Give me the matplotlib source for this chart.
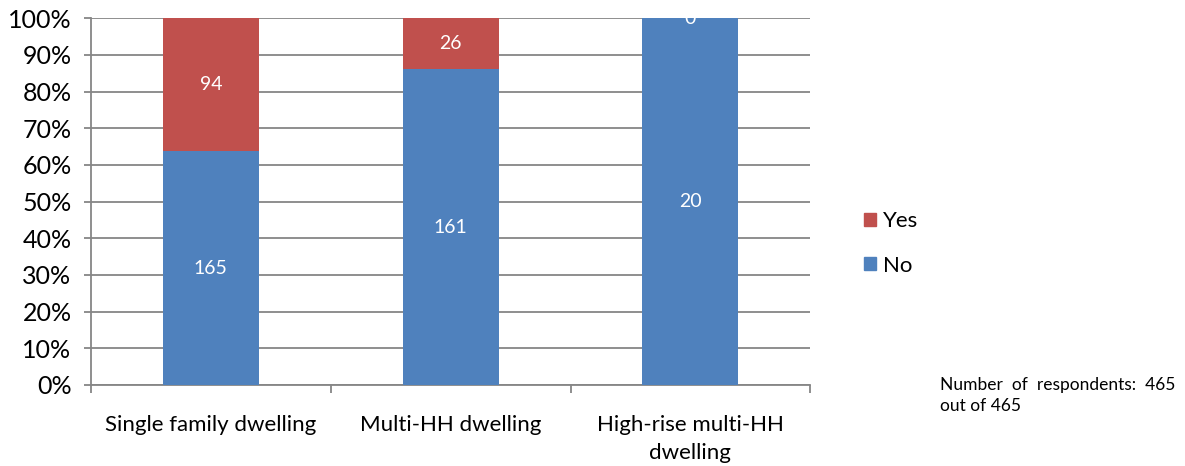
import numpy as np
import matplotlib.pyplot as plt
from matplotlib.patches import Patch
from matplotlib.ticker import PercentFormatter

plt.rcParams['font.family'] = ['Lato', 'DejaVu Sans']

# Dane
kategorie = ['Single family dwelling', 'Multi-HH dwelling', 'High-rise multi-HH\ndwelling']
nie = np.array([165, 161, 20])
tak = np.array([94, 26, 0])

suma = nie + tak
nie_pct = nie / suma * 100
tak_pct = tak / suma * 100

NIEBIESKI = '#4F81BD'
CZERWONY = '#C0504D'
SZARY = '#868686'

fig = plt.figure(figsize=(11.85, 4.66), dpi=100)
ax = fig.add_axes([0.0768, 0.174, 0.607, 0.787])

x = np.arange(len(kategorie))
s1 = ax.bar(x, nie_pct, width=0.4, color=NIEBIESKI, zorder=3)
s2 = ax.bar(x, tak_pct, width=0.4, bottom=nie_pct, color=CZERWONY, zorder=3)

# Etykiety wartości wewnątrz słupków
for i in range(len(x)):
    ax.text(x[i], nie_pct[i] / 2, str(nie[i]), ha='center', va='center',
            color='white', fontsize=14, zorder=4)
    if tak[i] > 0:
        ax.text(x[i], nie_pct[i] + tak_pct[i] / 2, str(tak[i]), ha='center',
                va='center', color='white', fontsize=14, zorder=4)
    else:
        ax.text(x[i], 100, str(tak[i]), ha='center', va='center',
                color='white', fontsize=14, zorder=4)

ax.set_xlim(-0.5, 2.5)
ax.set_ylim(0, 100)
ax.yaxis.set_major_formatter(PercentFormatter(decimals=0))
ax.set_yticks(np.arange(0, 101, 10))
ax.tick_params(axis='y', labelsize=18, length=5, color=SZARY, width=1.3, pad=9)

# Podziałki osi X na granicach kategorii
ax.set_xticks(np.arange(-0.5, 2.6, 1))
ax.set_xticklabels([])
ax.set_xticks(x, minor=True)
ax.set_xticklabels(kategorie, minor=True, fontsize=16, linespacing=1.45)
ax.tick_params(axis='x', which='major', length=6, color=SZARY, width=1.3)
ax.tick_params(axis='x', which='minor', length=0, pad=22)

ax.grid(axis='y', color=SZARY, linewidth=1.3, zorder=0)
for s in ['top', 'right']:
    ax.spines[s].set_visible(False)
for s in ['left', 'bottom']:
    ax.spines[s].set_color(SZARY)
    ax.spines[s].set_linewidth(1.3)

uchwyty = [Patch(color=CZERWONY), Patch(color=NIEBIESKI)]
fig.legend(uchwyty, ['Yes', 'No'], loc='upper left', bbox_to_anchor=(0.712, 0.59),
           frameon=False, fontsize=16, handlelength=0.55, handleheight=0.55,
           handletextpad=0.3, labelspacing=1.1)

fig.text(0.793, 0.152, 'Number  of  respondents:  465\nout of 465', fontsize=12.5,
         va='center', ha='left', linespacing=1.4)

plt.savefig('out.png', dpi=100)
